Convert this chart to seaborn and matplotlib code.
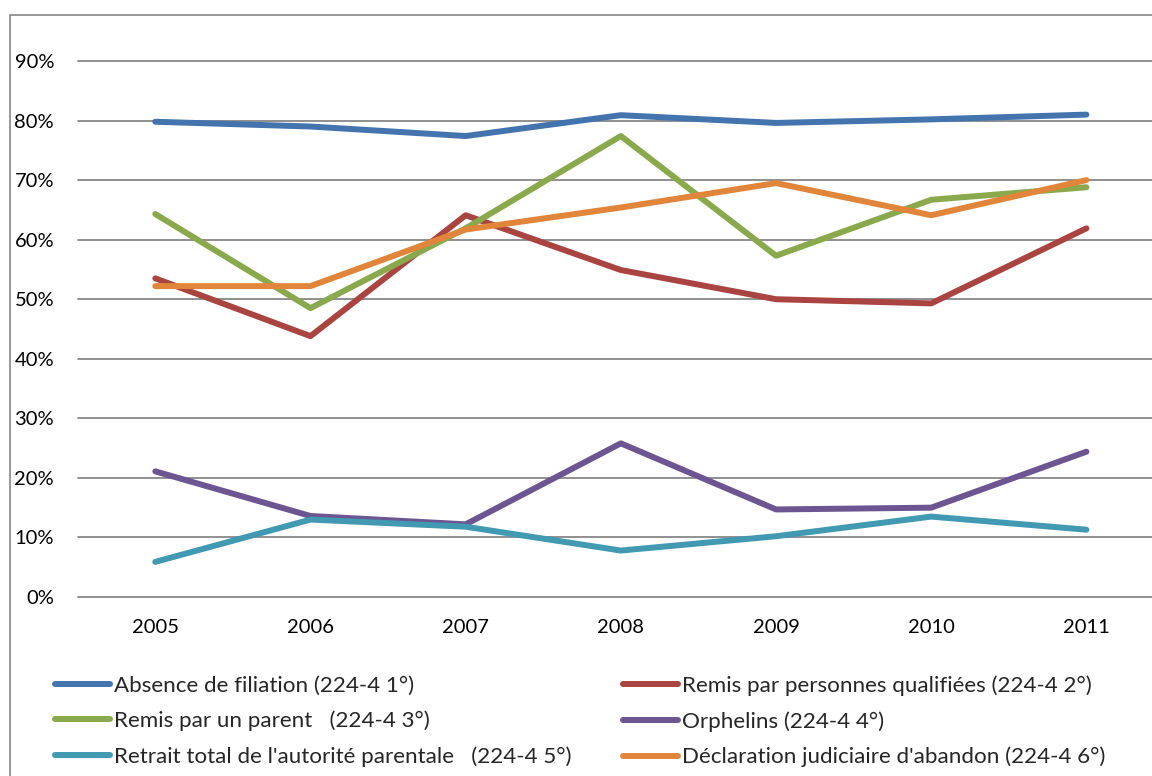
import matplotlib
matplotlib.use("Agg")
import matplotlib.pyplot as plt
import seaborn as sns
import pandas as pd
from matplotlib.lines import Line2D
from matplotlib.patches import Rectangle
from matplotlib.ticker import PercentFormatter

years = ["2005", "2006", "2007", "2008", "2009", "2010", "2011"]
series_names = [
    "Absence de filiation (224-4 1°)",
    "Remis par personnes qualifiées (224-4 2°)",
    "Remis par un parent   (224-4 3°)",
    "Orphelins (224-4 4°)",
    "Retrait total de l'autorité parentale   (224-4 5°)",
    "Déclaration judiciaire d'abandon (224-4 6°)",
]
absence = [79.8, 79.0, 77.4, 80.9, 79.6, 80.2, 81.0]
remis_pers = [53.5, 43.8, 64.1, 54.9, 50.0, 49.3, 61.9]
remis_parent = [64.3, 48.5, 61.9, 77.4, 57.3, 66.7, 68.8]
orphelins = [21.1, 13.6, 12.2, 25.8, 14.7, 15.0, 24.4]
retrait = [5.9, 13.0, 11.8, 7.8, 10.2, 13.5, 11.3]
declaration = [52.2, 52.2, 61.7, 65.4, 69.5, 64.1, 70.0]
y_ticks = [0, 10, 20, 30, 40, 50, 60, 70, 80, 90]

colors = ["#4374AE", "#AA4441", "#89A94C", "#6D5592", "#4199B2", "#E0853A"]
all_values = [absence, remis_pers, remis_parent, orphelins, retrait, declaration]

rows = []
for name, vals in zip(series_names, all_values):
    for yr, v in zip(years, vals):
        rows.append({"year": yr, "value": v / 100.0, "series": name})
df = pd.DataFrame(rows)

sns.set_style("white")
plt.rcParams["font.family"] = ["Lato", "DejaVu Sans"]

W, H = 1152, 776
fig = plt.figure(figsize=(W / 100, H / 100), dpi=100)
left_px, right_px, top_px, bottom_px = 77.7, 1164.0, 61.0, 597.0
ax = fig.add_axes([left_px / W, 1 - bottom_px / H, (right_px - left_px) / W, (bottom_px - top_px) / H])

sns.lineplot(data=df, x="year", y="value", hue="series", hue_order=series_names,
             palette=colors, lw=4.3, ax=ax, legend=False, sort=False,
             solid_capstyle="round", zorder=3)

ax.set_xlim(-0.5, 6.5)
ax.set_ylim(0, 0.9)
ax.set_yticks([t / 100 for t in y_ticks])
ax.yaxis.set_major_formatter(PercentFormatter(1.0, decimals=0))
ax.set_xlabel("")
ax.set_ylabel("")
for s in ax.spines.values():
    s.set_visible(False)
ax.yaxis.grid(True, color="#878787", lw=1.3)
ax.xaxis.grid(False)
for gl in ax.get_ygridlines():
    gl.set_clip_on(False)
ax.tick_params(axis="both", length=0, labelsize=14.5, colors="#000000")
ax.tick_params(axis="y", pad=17)
ax.tick_params(axis="x", pad=16)

# outer chart frame
fig.add_artist(Rectangle((9.5 / W, -0.1), 1.2, 1 - 15 / H + 0.1, transform=fig.transFigure,
                         fill=False, edgecolor="#888888", lw=1.2))

handles = [Line2D([0], [0], color=c, lw=4.3, solid_capstyle="round") for c in colors]
fs = 16.1
leg_kw = dict(frameon=False, fontsize=fs, handlelength=2.46, handletextpad=0.18,
              labelspacing=0.675, borderpad=0, borderaxespad=0, loc="upper left")
leg1 = fig.legend([handles[0], handles[2], handles[4]],
                  [series_names[0], series_names[2], series_names[4]],
                  bbox_to_anchor=(55 / W, 1 - 675.5 / H), **leg_kw)
leg2 = fig.legend([handles[1], handles[3], handles[5]],
                  [series_names[1], series_names[3], series_names[5]],
                  bbox_to_anchor=(623 / W, 1 - 675.5 / H), **leg_kw)

fig.savefig("out.png", dpi=100)
